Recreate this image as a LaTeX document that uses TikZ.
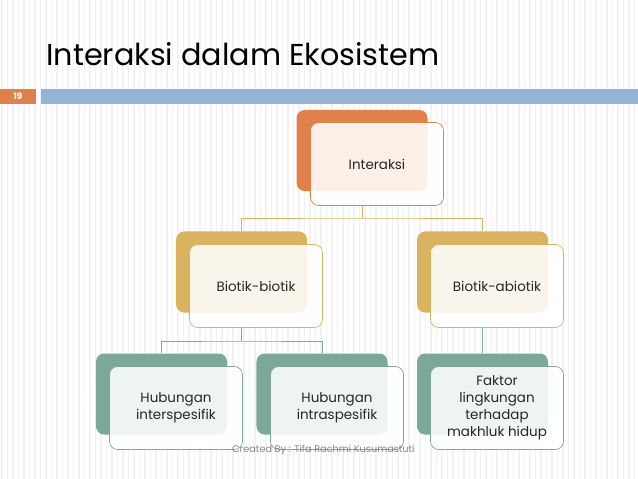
\documentclass[tikz,border=0pt]{standalone}
\usepackage{fontspec}
\setmainfont{Poppins}
\usetikzlibrary{positioning}

\definecolor{slideorange}{HTML}{E0804A}
\definecolor{slideblue}{HTML}{94B4D6}
\definecolor{nodegold}{HTML}{D9B35F}
\definecolor{nodeteal}{HTML}{7BA89B}
\definecolor{footgray}{HTML}{8A8480}

\begin{document}
\begin{tikzpicture}[x=0.03cm, y=-0.03cm,
    backbox/.style={rounded corners=7pt, minimum width=3.93cm, minimum height=2.43cm, inner sep=0pt, fill=#1},
    frontbox/.style={draw=#1, line width=0.6pt, rounded corners=7pt, fill=white, fill opacity=0.88, text opacity=1,
        minimum width=3.99cm, minimum height=2.49cm, align=center, font=\fontsize{11.5}{14.5}\selectfont, text=black!85},
    lnk/.style={draw=#1, line width=0.6pt}
]
\useasboundingbox (0,0) rectangle (638,479);
% faint vertical stripes of the slide
\foreach \i in {0,...,116}
  \draw[black!5, line width=1.6pt] (\i*5.5+2,0) -- (\i*5.5+2,479);

% title and header bar
\node[anchor=base west, inner sep=0pt, font=\fontsize{25.8}{31}\selectfont] (title) at (46,66) {Interaksi dalam Ekosistem};
\fill[slideorange] (0,89) rectangle (36,104);
\node[font=\bfseries\fontsize{7.5}{9}\selectfont, text=white] (pagenum) at (18,96.5) {19};
\fill[slideblue] (41,89) rectangle (638,104);

% back boxes
\node[backbox=slideorange] (interaksiB) at (362,150.5) {};
\node[backbox=nodegold] (biotikB) at (241.5,272) {};
\node[backbox=nodegold] (abiotikB) at (482.5,272) {};
\node[backbox=nodeteal] (interB) at (161.5,394) {};
\node[backbox=nodeteal] (intraB) at (322,394) {};
\node[backbox=nodeteal] (faktorB) at (482.5,394) {};

% front boxes
\node[frontbox=slideorange] (interaksi) at (377,164) {Interaksi};
\node[frontbox=nodegold] (biotik) at (256,286) {Biotik-biotik};
\node[frontbox=nodegold] (abiotik) at (497,286) {Biotik-abiotik};
\node[frontbox=nodeteal] (inter) at (176,408) {Hubungan\\interspesifik};
\node[frontbox=nodeteal] (intra) at (337,408) {Hubungan\\intraspesifik};
\node[frontbox=nodeteal] (faktor) at (497,408) {Faktor\\lingkungan\\terhadap\\makhluk hidup};

% connectors
\coordinate (busA) at (362,218);
\coordinate (busB) at (241.5,341);
\draw[lnk=nodegold] (interaksi.south -| interaksiB) -- (busA);
\draw[lnk=nodegold] (biotikB.north) |- (busA) -| (abiotikB.north);
\draw[lnk=nodeteal] (biotik.south -| biotikB) -- (busB);
\draw[lnk=nodeteal] (interB.north) |- (busB) -| (intraB.north);
\draw[lnk=nodeteal] (abiotik.south -| abiotikB) -- (faktorB.north);

% footer
\node[anchor=base west, inner sep=0pt, text=footgray, font=\fontsize{8.3}{10}\selectfont] (footer) at (232,452) {Created By : Tifa Rachmi Kusumastuti};
\end{tikzpicture}
\end{document}
